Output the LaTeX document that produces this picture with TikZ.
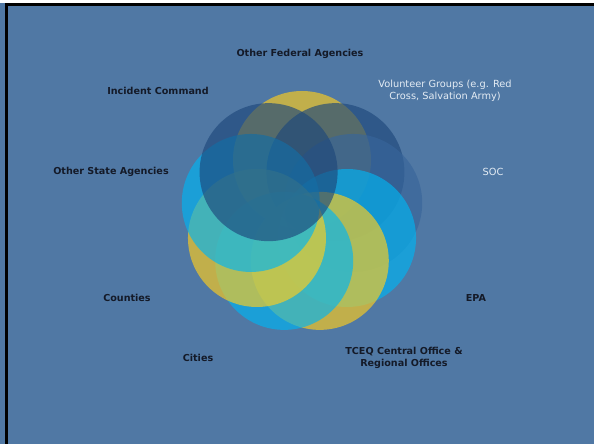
\documentclass[tikz,border=0pt]{standalone}
\usepackage{fontspec}
\setsansfont{DejaVu Sans}
\usetikzlibrary{calc}
\definecolor{slide}{HTML}{5078A4}
\definecolor{gold}{HTML}{FFCE1C}
\definecolor{navy}{HTML}{1E487B}
\definecolor{sky}{HTML}{00B5F3}
\definecolor{steel}{HTML}{38659A}
\definecolor{labeldark}{HTML}{141A28}
\definecolor{labellight}{HTML}{E4ECF4}

\begin{document}
\begin{tikzpicture}[x=1pt,y=1pt,
        disc/.style={circle,minimum size=138pt,inner sep=0pt,fill opacity=0.65},
        darklabel/.style={font=\sffamily\bfseries\fontsize{9.6}{12}\selectfont,text=labeldark,align=center},
        lightlabel/.style={font=\sffamily\fontsize{9.8}{12}\selectfont,text=labellight,align=center}]
                % slide background and frame
                \fill[slide] (0,0) rectangle (594,444);
                \fill[white] (0,441) rectangle (594,444);
                \fill[black] (5,438) rectangle (594,441);
                \fill[black] (5,0) rectangle (8,441);
                \coordinate (c) at (302,232);
                % the ring of circles
                \node[disc,fill=gold] (fed) at ($(c)+(90:52)$) {};
                \node[disc,fill=navy] (vol) at ($(c)+(50:52)$) {};
                \node[disc,fill=steel] (soc) at ($(c)+(10:52)$) {};
                \node[disc,fill=sky] (epa) at ($(c)+(-30:52)$) {};
                \node[disc,fill=gold] (tceq) at ($(c)+(-70:52)$) {};
                \node[disc,fill=sky] (cities) at ($(c)+(-110:52)$) {};
                \node[disc,fill=gold] (counties) at ($(c)+(-150:52)$) {};
                \node[disc,fill=sky] (state) at ($(c)+(170:52)$) {};
                \node[disc,fill=navy] (ic) at ($(c)+(130:52)$) {};
                % labels
                \node[darklabel] (fedlab) at (300,390) {Other Federal Agencies};
                \node[darklabel] (iclab) at (158,353) {Incident Command};
                \node[lightlabel] (vollab) at (445,353) {Volunteer Groups (e.g. Red\\Cross, Salvation Army)};
                \node[lightlabel] (soclab) at (493,272) {SOC};
                \node[darklabel] (statelab) at (111,272) {Other State Agencies};
                \node[darklabel] (countieslab) at (127,146) {Counties};
                \node[darklabel] (epalab) at (476,146) {EPA};
                \node[darklabel] (citieslab) at (198,86) {Cities};
                \node[darklabel] (tceqlab) at (404,86) {TCEQ Central Office \&\\Regional Offices};
            \end{tikzpicture}
\end{document}
